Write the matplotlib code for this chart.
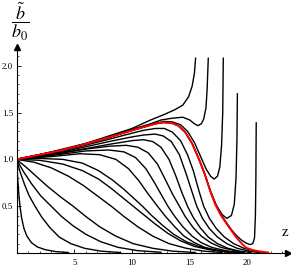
import matplotlib as mpl
import matplotlib.pyplot as plt
from matplotlib.ticker import MultipleLocator

# separatrix (red)
z_red = [0, 2, 4, 6, 8, 10, 11, 12, 12.7, 13.4, 14.0, 14.6, 15.2, 15.8, 16.3, 16.8,
         17.2, 17.7, 18.2, 18.6, 19.0, 19.5, 19.9, 20.5, 21.0, 21.6, 21.8]
b_red = [1.0, 1.05, 1.10, 1.165, 1.235, 1.31, 1.345, 1.38, 1.395, 1.39, 1.36, 1.29, 1.17, 1.0, 0.84, 0.65,
         0.52, 0.40, 0.31, 0.24, 0.17, 0.10, 0.055, 0.03, 0.018, 0.008, 0.005]

# curves above the separatrix (blow up)
z_e = [0, 2, 4, 6, 8, 10, 11.6, 12.8, 13.7, 14.4, 14.9, 15.2, 15.4, 15.5]
b_e = [1.0, 1.05, 1.11, 1.17, 1.25, 1.33, 1.42, 1.48, 1.53, 1.58, 1.67, 1.78, 1.92, 2.08]

z_d = [0, 2, 4, 6, 8, 10, 11.6, 12.5, 13.5, 14.4, 15.0, 15.4, 15.7, 16.0, 16.2, 16.4, 16.5, 16.6]
b_d = [1.0, 1.05, 1.10, 1.17, 1.24, 1.32, 1.38, 1.42, 1.44, 1.45, 1.42, 1.38, 1.36, 1.38, 1.43, 1.55, 1.75, 2.08]

z_c = [0, 2, 4, 6, 8, 10, 12, 12.8, 13.5, 14.2, 14.8, 15.4, 15.9, 16.4, 16.8, 17.1, 17.4, 17.6, 17.75, 17.85, 17.9]
b_c = [1.0, 1.05, 1.10, 1.165, 1.235, 1.31, 1.385, 1.405, 1.40, 1.37, 1.30, 1.18, 1.04, 0.90, 0.82, 0.79, 0.82, 0.92, 1.15, 1.5, 2.08]

z_b = [0, 2, 4, 6, 8, 10, 12, 12.7, 13.4, 14.0, 14.6, 15.2, 15.8, 16.3, 16.8, 17.3, 17.8, 18.2, 18.6, 18.85, 19.0, 19.08, 19.12]
b_b = [1.0, 1.05, 1.10, 1.165, 1.235, 1.31, 1.38, 1.395, 1.39, 1.36, 1.29, 1.17, 1.0, 0.84, 0.66, 0.51, 0.41, 0.37, 0.40, 0.52, 0.8, 1.2, 1.70]

z_a = [0, 2, 4, 6, 8, 10, 12, 12.7, 13.4, 14.0, 14.6, 15.2, 15.8, 16.3, 16.8, 17.2, 17.7, 18.2, 18.6, 19.0,
       19.5, 19.9, 20.2, 20.45, 20.6, 20.68, 20.72, 20.75]
b_a = [1.0, 1.05, 1.10, 1.165, 1.235, 1.31, 1.38, 1.395, 1.39, 1.36, 1.29, 1.17, 1.0, 0.84, 0.65, 0.53, 0.41, 0.32, 0.25, 0.19,
       0.135, 0.105, 0.09, 0.10, 0.16, 0.4, 0.8, 1.39]

# curves below the separatrix (decay to zero)
z_c13 = [0, 4, 8, 10, 11, 12, 12.8, 13.5, 14.2, 14.8, 15.3, 15.8, 16.2, 16.7, 17.3, 18.0, 18.8, 19.7, 20.7, 21.5]
b_c13 = [1.0, 1.09, 1.215, 1.28, 1.31, 1.33, 1.33, 1.29, 1.20, 1.05, 0.88, 0.66, 0.5, 0.37, 0.26, 0.17, 0.10, 0.05, 0.02, 0.005]

z_c12 = [0, 4, 8, 10, 11, 12, 12.7, 13.4, 14.1, 14.7, 15.2, 15.6, 16.1, 16.7, 17.4, 18.2, 19.1, 20.1, 21.0]
b_c12 = [1.0, 1.08, 1.19, 1.24, 1.26, 1.27, 1.25, 1.19, 1.05, 0.84, 0.65, 0.5, 0.37, 0.26, 0.17, 0.10, 0.05, 0.02, 0.005]

z_c11 = [0, 4, 8, 10, 11, 11.8, 12.5, 13.2, 13.8, 14.3, 14.8, 15.3, 15.9, 16.6, 17.4, 18.3, 19.3, 20.3]
b_c11 = [1.0, 1.07, 1.16, 1.20, 1.21, 1.19, 1.13, 1.0, 0.82, 0.65, 0.5, 0.38, 0.27, 0.17, 0.10, 0.05, 0.02, 0.005]

z_c10 = [0, 3, 6, 8, 9.5, 10.5, 11.4, 12.2, 12.9, 13.5, 14.1, 14.6, 15.3, 16.0, 16.8, 17.7, 18.7, 19.7]
b_c10 = [1.0, 1.05, 1.11, 1.14, 1.15, 1.13, 1.07, 0.95, 0.78, 0.63, 0.5, 0.39, 0.27, 0.18, 0.11, 0.06, 0.03, 0.005]

z_c9 = [0, 3, 6, 8, 9.3, 10.3, 11.2, 11.9, 12.5, 13.1, 13.7, 14.4, 15.2, 16.0, 16.9, 17.9, 19.0]
b_c9 = [1.0, 1.04, 1.09, 1.10, 1.08, 1.02, 0.90, 0.76, 0.63, 0.5, 0.39, 0.28, 0.18, 0.11, 0.06, 0.03, 0.005]

z_c8 = [0, 3, 5.5, 7.2, 8.6, 9.7, 10.6, 11.4, 12.2, 12.9, 13.7, 14.5, 15.4, 16.3, 17.3, 18.4]
b_c8 = [1.0, 1.03, 1.06, 1.05, 1.0, 0.90, 0.77, 0.63, 0.5, 0.39, 0.28, 0.18, 0.11, 0.06, 0.03, 0.005]

z_c7 = [0, 2, 4, 5.7, 7.1, 8.3, 9.3, 10.1, 10.9, 11.7, 12.6, 13.6, 14.7, 15.8, 17.0, 18.3, 19.5]
b_c7 = [1.0, 1.01, 1.0, 0.96, 0.88, 0.78, 0.68, 0.59, 0.5, 0.40, 0.30, 0.20, 0.12, 0.07, 0.035, 0.015, 0.005]

z_c6 = [0, 2, 4, 5.7, 7.1, 8.2, 9.2, 10.1, 11.0, 12.0, 13.1, 14.2, 15.4, 16.7, 18.0, 19.3]
b_c6 = [1.0, 0.99, 0.95, 0.88, 0.79, 0.69, 0.59, 0.5, 0.41, 0.31, 0.21, 0.13, 0.07, 0.035, 0.015, 0.005]

z_c5 = [0, 1.5, 3, 4.5, 5.8, 7.0, 8.2, 9.3, 10.5, 11.8, 13.2, 14.7, 16.2, 17.8]
b_c5 = [1.0, 0.97, 0.91, 0.82, 0.72, 0.61, 0.5, 0.39, 0.28, 0.18, 0.10, 0.05, 0.02, 0.005]

z_c4 = [0, 0.8, 1.7, 2.7, 3.8, 4.9, 6.0, 7.2, 8.6, 10.1, 11.8, 13.5, 15.5]
b_c4 = [1.0, 0.92, 0.82, 0.71, 0.60, 0.5, 0.39, 0.28, 0.18, 0.10, 0.05, 0.02, 0.005]

z_c3 = [0, 0.6, 1.3, 2.1, 3.0, 3.9, 4.9, 6.0, 7.3, 8.8, 10.5, 12.5]
b_c3 = [1.0, 0.87, 0.74, 0.61, 0.5, 0.39, 0.29, 0.20, 0.12, 0.06, 0.025, 0.008]

z_c2 = [0, 0.3, 0.7, 1.1, 1.6, 2.2, 2.9, 3.7, 4.7, 5.9, 7.3, 9.0]
b_c2 = [1.0, 0.87, 0.73, 0.61, 0.5, 0.38, 0.27, 0.17, 0.10, 0.05, 0.02, 0.005]

z_c1 = [0, 0.1, 0.2, 0.3, 0.45, 0.65, 0.9, 1.3, 1.8, 2.5, 3.4, 4.5]
b_c1 = [1.0, 0.8, 0.63, 0.5, 0.37, 0.26, 0.18, 0.11, 0.065, 0.035, 0.015, 0.005]

x_ticks = [5, 10, 15, 20]
y_ticks = [0.5, 1.0, 1.5, 2.0]
y_ticklabels = ['0.5', '1.0', '1.5', '2.0']

# configuration
mpl.rcParams['font.family'] = 'Liberation Serif'
mpl.rcParams['mathtext.fontset'] = 'stix'

fig = plt.figure(figsize=(2.91, 2.66), dpi=100)
ax = fig.add_axes([16.5 / 291, 13 / 266, 271.5 / 291, 206 / 266])

black = [(z_c1, b_c1), (z_c2, b_c2), (z_c3, b_c3), (z_c4, b_c4), (z_c5, b_c5),
         (z_c6, b_c6), (z_c7, b_c7), (z_c8, b_c8), (z_c9, b_c9), (z_c10, b_c10),
         (z_c11, b_c11), (z_c12, b_c12), (z_c13, b_c13),
         (z_a, b_a), (z_b, b_b), (z_c, b_c), (z_d, b_d), (z_e, b_e)]
for z, b in black:
    ax.plot(z, b, color='black', lw=1.0)
ax.plot(z_red, b_red, color='red', lw=1.4)

ax.set_xlim(0, 23.5)
ax.set_ylim(0, 2.2)
for s in ['top', 'right']:
    ax.spines[s].set_visible(False)
for s in ['left', 'bottom']:
    ax.spines[s].set_linewidth(0.8)

# axis arrows
ax.plot(1, 0, marker='>', ms=4, color='black', transform=ax.transAxes, clip_on=False)
ax.plot(0, 1, marker='^', ms=4, color='black', transform=ax.transAxes, clip_on=False)

ax.set_xticks(x_ticks)
ax.set_yticks(y_ticks)
ax.set_yticklabels(y_ticklabels)
ax.xaxis.set_minor_locator(MultipleLocator(1))
ax.yaxis.set_minor_locator(MultipleLocator(0.1))
ax.tick_params(which='major', direction='in', length=3, width=0.6, labelsize=6.5)
ax.tick_params(which='minor', direction='in', length=1.5, width=0.5)
ax.tick_params(axis='x', pad=4)
ax.tick_params(axis='y', pad=2.5)

# labels
fig.text(20 / 291, 1 - 22 / 266, r'$\dfrac{\tilde{b}}{b_0}$', ha='center', va='center', fontsize=13)
fig.text(285 / 291, 1 - 233 / 266, 'z', ha='center', va='center', fontsize=11)

plt.savefig('out.png', dpi=100)
